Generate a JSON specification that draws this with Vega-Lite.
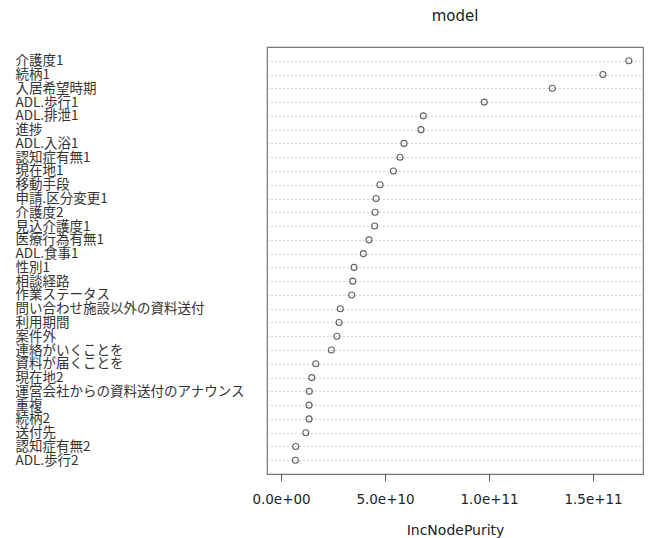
{
  "$schema": "https://vega.github.io/schema/vega-lite/v6.json",
  "width": 376,
  "height": 427,
  "autosize": {"type": "none"},
  "padding": {"left": 267, "top": 47, "right": 8, "bottom": 64},
  "background": "white",
  "title": {
    "text": "model",
    "anchor": "middle",
    "fontSize": 15,
    "fontWeight": "normal",
    "font": "DejaVu Sans",
    "color": "#222",
    "offset": 23
  },
  "config": {
    "view": {"stroke": "#777", "strokeWidth": 1.2},
    "font": "Noto Sans CJK JP"
  },
  "data": {
    "values": [
      {"variable": "介護度1", "IncNodePurity": 167.2e9},
      {"variable": "続柄1", "IncNodePurity": 154.7e9},
      {"variable": "入居希望時期", "IncNodePurity": 130.4e9},
      {"variable": "ADL.歩行1", "IncNodePurity": 97.7e9},
      {"variable": "ADL.排泄1", "IncNodePurity": 68.4e9},
      {"variable": "進捗", "IncNodePurity": 67.3e9},
      {"variable": "ADL.入浴1", "IncNodePurity": 59.1e9},
      {"variable": "認知症有無1", "IncNodePurity": 57.2e9},
      {"variable": "現在地1", "IncNodePurity": 54.0e9},
      {"variable": "移動手段", "IncNodePurity": 47.6e9},
      {"variable": "申請.区分変更1", "IncNodePurity": 45.7e9},
      {"variable": "介護度2", "IncNodePurity": 45.2e9},
      {"variable": "見込介護度1", "IncNodePurity": 45.0e9},
      {"variable": "医療行為有無1", "IncNodePurity": 42.3e9},
      {"variable": "ADL.食事1", "IncNodePurity": 39.6e9},
      {"variable": "性別1", "IncNodePurity": 35.1e9},
      {"variable": "相談経路", "IncNodePurity": 34.5e9},
      {"variable": "作業ステータス", "IncNodePurity": 34.0e9},
      {"variable": "問い合わせ施設以外の資料送付", "IncNodePurity": 28.5e9},
      {"variable": "利用期間", "IncNodePurity": 27.9e9},
      {"variable": "案件外", "IncNodePurity": 26.9e9},
      {"variable": "連絡がいくことを", "IncNodePurity": 24.2e9},
      {"variable": "資料が届くことを", "IncNodePurity": 16.7e9},
      {"variable": "現在地2", "IncNodePurity": 14.8e9},
      {"variable": "運営会社からの資料送付のアナウンス", "IncNodePurity": 13.6e9},
      {"variable": "重複", "IncNodePurity": 13.5e9},
      {"variable": "続柄2", "IncNodePurity": 13.5e9},
      {"variable": "送付先", "IncNodePurity": 11.9e9},
      {"variable": "認知症有無2", "IncNodePurity": 7.1e9},
      {"variable": "ADL.歩行2", "IncNodePurity": 6.9e9}
    ]
  },
  "mark": {
    "type": "point",
    "shape": "circle",
    "filled": false,
    "size": 36,
    "stroke": "#222",
    "strokeWidth": 1.1
  },
  "encoding": {
    "y": {
      "field": "variable",
      "type": "nominal",
      "sort": null,
      "scale": {"type": "point", "padding": 1},
      "axis": {
        "title": null,
        "domain": false,
        "ticks": false,
        "tickSize": 0,
        "labelAlign": "left",
        "labelBaseline": "middle",
        "labelPadding": 252,
        "labelLimit": 0,
        "labelFontSize": 13.5,
        "labelColor": "#333",
        "labelFont": "Noto Sans CJK JP",
        "grid": true,
        "gridDash": [1, 3],
        "gridColor": "#aaa",
        "gridWidth": 1
      }
    },
    "x": {
      "field": "IncNodePurity",
      "type": "quantitative",
      "scale": {"domain": [-6.73e9, 174.0e9], "nice": false, "zero": false},
      "axis": {
        "title": "IncNodePurity",
        "titleFont": "DejaVu Sans",
        "titleFontSize": 14,
        "titleFontWeight": "normal",
        "titleColor": "#222",
        "titlePadding": 18,
        "values": [0, 5e10, 1e11, 1.5e11],
        "labelExpr": "datum.value == 0 ? '0.0e+00' : format(datum.value, '.1e')",
        "labelFont": "DejaVu Sans",
        "labelFontSize": 13.5,
        "labelColor": "#222",
        "labelPadding": 11,
        "tickSize": 7,
        "tickColor": "#555",
        "domain": false,
        "grid": false
      }
    }
  }
}
